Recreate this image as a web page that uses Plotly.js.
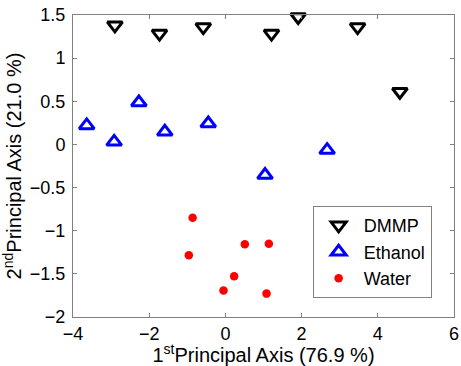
<!DOCTYPE html>
<html>
<head>
<meta charset="utf-8">
<script src="https://cdn.plot.ly/plotly-3.0.1.min.js"></script>
<style>html,body{margin:0;padding:0;background:#fff;}#chart{width:461px;height:366px;}</style>
</head>
<body>
<div id="chart"></div>
<script>
// DMMP
const dmmpX = [-2.90, -1.73, -0.58, 1.21, 1.91, 3.47, 4.58];
const dmmpY = [1.38, 1.285, 1.36, 1.285, 1.477, 1.36, 0.61];
// Ethanol
const ethX = [-3.64, -2.92, -2.27, -1.59, -0.45, 1.04, 2.67];
const ethY = [0.22, 0.03, 0.486, 0.146, 0.243, -0.355, -0.066];
// Water
const watX = [-0.86, 0.51, 1.14, -0.96, 0.23, -0.05, 1.08];
const watY = [-0.85, -1.157, -1.15, -1.285, -1.528, -1.694, -1.729];

const seriesNames = ['DMMP', 'Ethanol', 'Water'];
const xTicks = [-4, -2, 0, 2, 4, 6];
const yTicks = [-2, -1.5, -1, -0.5, 0, 0.5, 1, 1.5];

const fontFam = '"Liberation Sans", Arial, Helvetica, sans-serif';
const tickText = v => (v < 0 ? '\u2212' + Math.abs(v) : String(v));

const traces = [
  {x: dmmpX, y: dmmpY, name: seriesNames[0], type: 'scatter', mode: 'markers', cliponaxis: false,
   marker: {symbol: 'triangle-down-open', size: 13, color: '#000', line: {width: 3, color: '#000'}}},
  {x: ethX, y: ethY, name: seriesNames[1], type: 'scatter', mode: 'markers', cliponaxis: false,
   marker: {symbol: 'triangle-up-open', size: 13, color: '#0000ff', line: {width: 3, color: '#0000ff'}}},
  {x: watX, y: watY, name: seriesNames[2], type: 'scatter', mode: 'markers', cliponaxis: false,
   marker: {symbol: 'circle', size: 8.5, color: '#ff0000', line: {width: 0}}}
];

const axisCommon = {
  showgrid: false, zeroline: false, showline: true, linecolor: '#808080', linewidth: 1,
  mirror: 'ticks', ticks: 'inside', ticklen: 4, tickcolor: '#808080', tickwidth: 1,
  tickfont: {family: fontFam, size: 18, color: '#000'}
};

const layout = {
  width: 461, height: 366,
  margin: {l: 73, r: 7, t: 15, b: 49, pad: 0},
  paper_bgcolor: '#fff', plot_bgcolor: '#fff',
  font: {family: fontFam, color: '#000'},
  showlegend: true,
  legend: {x: 0.629, y: 0.367, xanchor: 'left', yanchor: 'top', bordercolor: '#808080', borderwidth: 1,
           bgcolor: '#fff', font: {family: fontFam, size: 18, color: '#000'}, tracegroupgap: 0, itemwidth: 40},
  xaxis: Object.assign({}, axisCommon, {
    range: [-4, 6], tickmode: 'array', tickvals: xTicks, ticktext: xTicks.map(tickText),
    title: {text: '1<sup>st</sup>Principal Axis (76.9 %)', font: {family: fontFam, size: 20, color: '#000'}, standoff: 6}
  }),
  yaxis: Object.assign({}, axisCommon, {
    range: [-2, 1.5], tickmode: 'array', tickvals: yTicks, ticktext: yTicks.map(tickText),
    ticklabelstandoff: 3,
    title: {text: '2<sup>nd</sup>Principal Axis (21.0 %)', font: {family: fontFam, size: 20, color: '#000'}, standoff: 4}
  })
};

Plotly.newPlot('chart', traces, layout, {displayModeBar: false, staticPlot: true});
</script>
</body>
</html>
